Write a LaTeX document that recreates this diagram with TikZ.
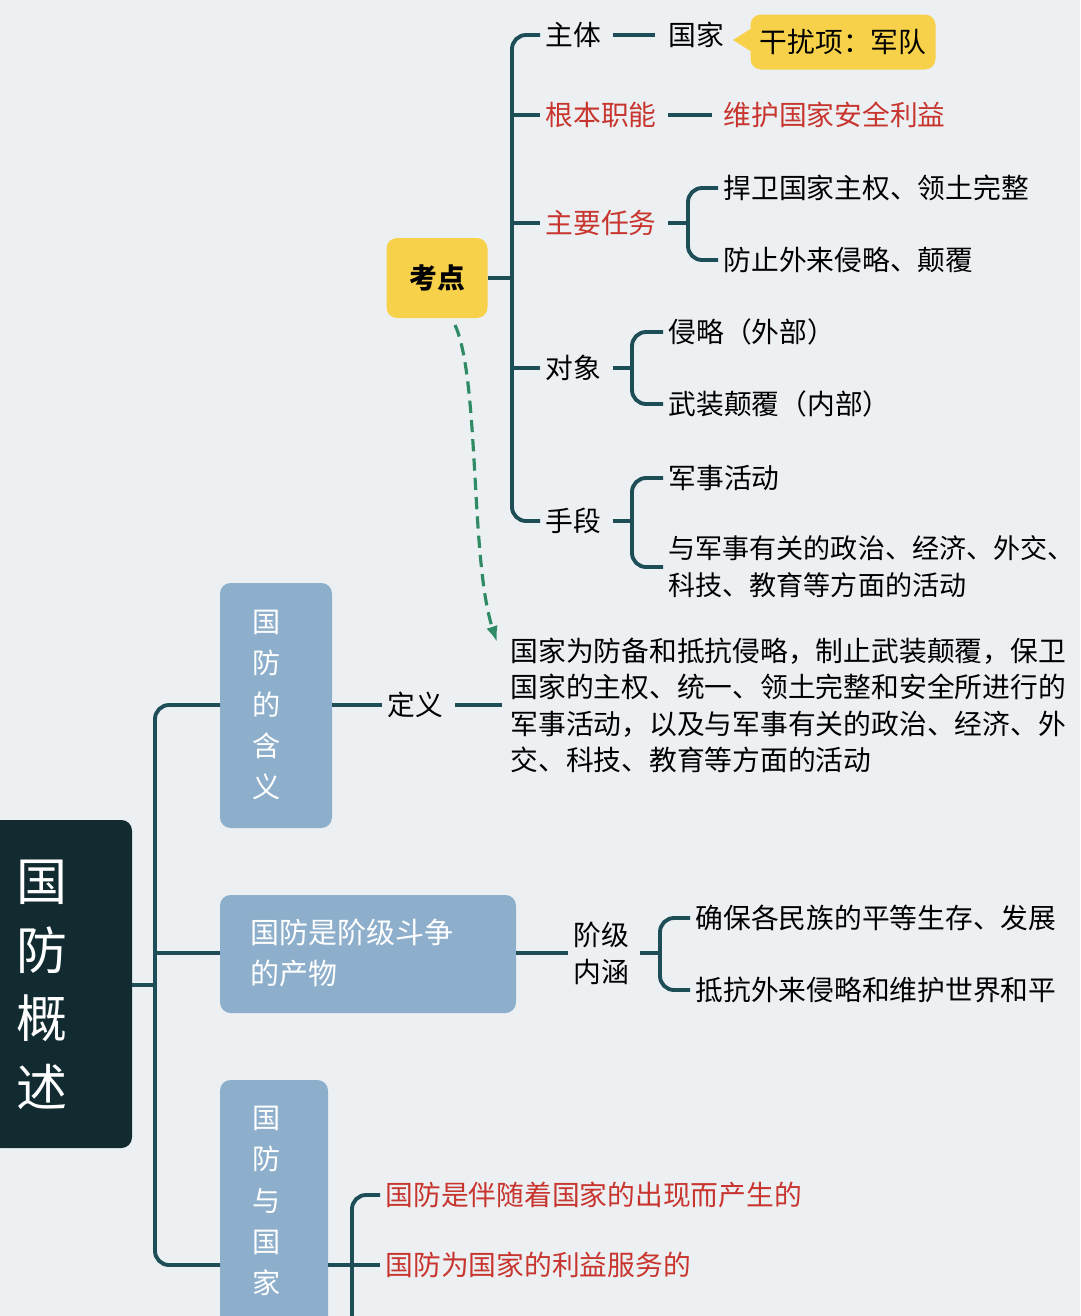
\documentclass[tikz,border=0pt]{standalone}
\usepackage{fontspec}
\setmainfont{Noto Sans CJK SC}
\usetikzlibrary{arrows.meta}
\definecolor{bgc}{HTML}{EDF0F3}
\definecolor{lnc}{HTML}{1D4E58}
\definecolor{rootc}{HTML}{112B31}
\definecolor{boxc}{HTML}{8EAFCB}
\definecolor{yelc}{HTML}{F7D149}
\definecolor{redc}{HTML}{C8352E}
\definecolor{dashc}{HTML}{2E8B64}
\tikzset{
  ln/.style={line width=2.2pt, draw=lnc, rounded corners=8},
  txt/.style={anchor=west, inner sep=3pt, font=\fontsize{15.8}{21}\selectfont, text=black},
  red/.style={txt, text=redc},
  vtext/.style={align=center, text=white, font=\fontsize{16}{23.5}\selectfont}
}
\begin{document}
\begin{tikzpicture}[x=0.02cm, y=-0.02cm]
  \fill[bgc] (0,0) rectangle (1080,1316);
  \useasboundingbox (0,0) rectangle (1080,1316);

  % root and main boxes
  \fill[rootc, rounded corners=6] (-10,820) rectangle (132,1148);
  \node[align=center, text=white, font=\fontsize{29}{39}\selectfont] (root) at (42,985) {国\\防\\概\\述};
  \fill[boxc, rounded corners=6] (220,583) rectangle (332,828);
  \node[vtext] (hy) at (267,705) {国\\防\\的\\含\\义};
  \fill[boxc, rounded corners=6] (220,895) rectangle (516,1013);
  \node[anchor=west, align=left, text=white, font=\fontsize{16.5}{23.5}\selectfont] (jj) at (244,953) {国防是阶级斗争\\的产物};
  \fill[boxc, rounded corners=6] (220,1080) rectangle (328,1330);
  \node[vtext, anchor=north] (gj) at (267,1100) {国\\防\\与\\国\\家};
  \coordinate (b1) at (332,705);
  \coordinate (b2) at (516,953);
  \coordinate (b3) at (328,1265);
  \draw[ln] (132,985) -- (155,985);
  \draw[ln] (220,705) -| (155,985) |- (220,1265);
  \draw[ln] (155,953) -- (220,953);

  % definition
  \node[txt] (dy) at (382,705) {定义};
  \draw[ln] (b1) -- (dy.west);
  \node[txt, anchor=north west, align=left, font=\fontsize{15.8}{20.8}\selectfont] (def) at (505,632)
    {国家为防备和抵抗侵略，制止武装颠覆，保卫\\国家的主权、统一、领土完整和安全所进行的\\军事活动，以及与军事有关的政治、经济、外\\交、科技、教育等方面的活动};
  \draw[ln] (dy.east) ++(6,0) -- (502,705);

  % class
  \node[txt, align=left] (jn) at (568,953) {阶级\\内涵};
  \draw[ln] (b2) -- (jn.west);
  \node[txt] (j1) at (690,918) {确保各民族的平等生存、发展};
  \node[txt] (j2) at (690,990) {抵抗外来侵略和维护世界和平};
  \draw[ln] (j1.west) -| (660,953) |- (j2.west);
  \draw[ln] (640,953) -- (660,953);

  % state
  \node[red] (s1) at (380,1195) {国防是伴随着国家的出现而产生的};
  \node[red] (s2) at (380,1265) {国防为国家的利益服务的};
  \draw[ln] (s1.west) -| (352,1330);
  \draw[ln] (b3) -- (s2.west);

  % kaodian
  \node[fill=yelc, rounded corners=6, minimum width=101*0.02cm, minimum height=80*0.02cm,
        font=\fontsize{15.8}{20}\selectfont\bfseries] (kd) at (437,278) {考点};
  \node[txt] (zt) at (540,35) {主体};
  \node[red] (gn) at (540,115) {根本职能};
  \node[red] (rw) at (540,223) {主要任务};
  \node[txt] (dx) at (540,368) {对象};
  \node[txt] (sd) at (540,521) {手段};
  \draw[ln] (kd.east) -- (512,278);
  \draw[ln] (zt.west) -| (512,278) |- (sd.west);
  \foreach \n in {gn,rw,dx} \draw[ln] (512,0 |- \n.west) -- (\n.west);

  \node[txt] (gjia) at (663,35) {国家};
  \draw[ln] (zt.east) ++(6,0) -- (655,35);
  \node[fill=yelc, rounded corners=6, minimum width=185*0.02cm, minimum height=55*0.02cm,
        font=\fontsize{15.8}{20}\selectfont] (grx) at (843,42) {干扰项：军队};
  \fill[yelc] (752,28) -- (733,40) -- (752,52) -- cycle;

  \node[red] (wh) at (718,115) {维护国家安全利益};
  \draw[ln] (gn.east) ++(6,0) -- (712,115);

  \node[txt] (r1) at (718,188) {捍卫国家主权、领土完整};
  \node[txt] (r2) at (718,260) {防止外来侵略、颠覆};
  \draw[ln] (r1.west) -| (688,223) |- (r2.west);
  \draw[ln] (rw.east) ++(6,0) -- (688,223);

  \node[txt] (d1) at (663,332) {侵略（外部）};
  \node[txt] (d2) at (663,404) {武装颠覆（内部）};
  \draw[ln] (d1.west) -| (632,368) |- (d2.west);
  \draw[ln] (dx.east) ++(6,0) -- (632,368);

  \node[txt] (m1) at (663,478) {军事活动};
  \node[txt, align=left, font=\fontsize{15.4}{21}\selectfont] (m2) at (663,567) {与军事有关的政治、经济、外交、\\科技、教育等方面的活动};
  \draw[ln] (m1.west) -| (632,521) |- (663,567);
  \draw[ln] (sd.east) ++(6,0) -- (632,521);

  % dashed link
  \draw[dashc, line width=1.8pt, dash pattern=on 7pt off 4pt, -{Latex[length=9pt]}] (455,325) .. controls (480,380) and (470,560) .. (497,642);
\end{tikzpicture}
\end{document}
